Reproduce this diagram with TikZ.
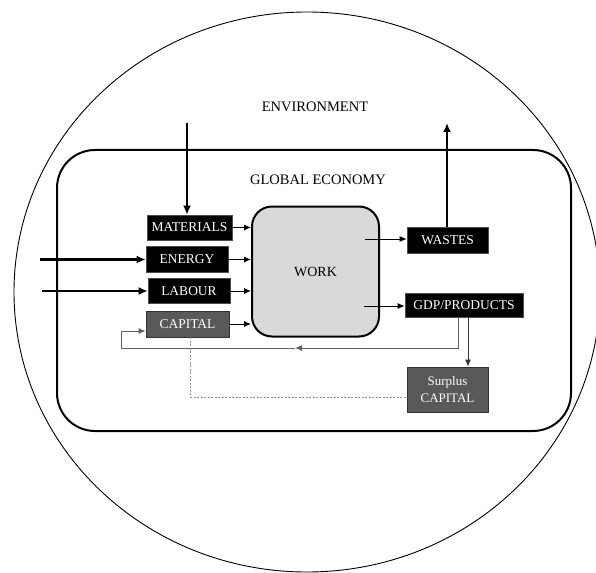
\documentclass[tikz,border=0pt]{standalone}
\usepackage{fontspec}
\setmainfont{Liberation Serif}
\usetikzlibrary{arrows.meta,calc}
\definecolor{boxgray}{HTML}{595959}
\definecolor{workgray}{HTML}{D9D9D9}
\definecolor{linegray}{HTML}{606060}
\tikzset{
  blackbox/.style={draw=black!70, line width=0.6pt, fill=black, text=white, inner sep=0pt, font=\fontsize{13.5}{15}\selectfont},
  graybox/.style={draw=black!80, line width=0.8pt, fill=boxgray, text=white, inner sep=0pt, font=\fontsize{13.5}{15}\selectfont},
  thickarrow/.style={line width=2.3pt, -{Latex[length=9pt,width=8pt]}},
  thinarrow/.style={line width=0.9pt, -{Latex[length=7pt,width=6pt]}},
  fbline/.style={draw=linegray, line width=1pt},
  title/.style={font=\fontsize{14.5}{16}\selectfont}
}
\begin{document}
\begin{tikzpicture}[x=1pt,y=-1pt]
\useasboundingbox (0,0) rectangle (596,572);
\fill[white] (0,0) rectangle (596,572);
% environment ellipse
\draw[line width=0.9pt] (307,292) ellipse [x radius=293, y radius=280];
\node[title] (env) at (315,107) {ENVIRONMENT};
% global economy
\draw[line width=2pt, rounded corners=38pt] (57,150) rectangle (571,431);
\node[title] (ge) at (318,180) {GLOBAL ECONOMY};
% boxes
\node[blackbox, minimum width=85pt, minimum height=25pt] (mat) at (189.5,227.5) {MATERIALS};
\node[blackbox, minimum width=82pt, minimum height=26pt] (ene) at (187,259.5) {ENERGY};
\node[blackbox, minimum width=82pt, minimum height=25pt] (lab) at (189,291) {LABOUR};
\node[graybox, minimum width=83pt, minimum height=26pt] (cap) at (187.5,324) {CAPITAL};
\node[draw, line width=2pt, fill=workgray, rounded corners=20pt, minimum width=127pt, minimum height=130pt, font=\fontsize{14}{16}\selectfont] (work) at (315.5,271.5) {WORK};
\node[blackbox, minimum width=81pt, minimum height=26pt] (was) at (447.5,240) {WASTES};
\node[blackbox, minimum width=118pt, minimum height=24pt] (gdp) at (464,305) {GDP/PRODUCTS};
\node[graybox, minimum width=81pt, minimum height=45pt, align=center, font=\fontsize{13}{17}\selectfont] (sur) at (447.5,389.5) {Surplus\\CAPITAL};
% external arrows
\coordinate (matin) at (187,123);
\coordinate (wasout) at (447,123);
\coordinate (enein) at (40,259.5);
\coordinate (labin) at (42,291);
\draw[thickarrow] (matin) -- (matin |- mat.north);
\draw[thickarrow] (was.north -| wasout) -- (wasout);
\draw[thickarrow] (enein) -- (ene.west);
\draw[thickarrow] (labin) -- (lab.west);
% inputs to work
\draw[thinarrow] (mat.east) -- (work.west |- mat.east);
\draw[thinarrow] (ene.east) -- (work.west |- ene.east);
\draw[thinarrow] (lab.east) -- (work.west |- lab.east);
\draw[thinarrow] (cap.east) -- (work.west |- cap.east);
% outputs
\coordinate (wo1) at (365,239);
\coordinate (wo2) at (364,306);
\draw[thinarrow] (wo1) -- (was.west |- wo1);
\draw[thinarrow] (wo2) -- (gdp.west |- wo2);
% feedback loop
\coordinate (g1) at (458,317);
\coordinate (mid) at (295,348);
\coordinate (lc) at (121,348);
\draw[fbline, -{Latex[length=7pt,width=6pt]}] (g1 |- gdp.south) |- (mid);
\draw[fbline, -{Latex[length=7pt,width=6pt]}] (mid) -- (lc) |- ([yshift=-7pt]cap.west);
% to surplus
\coordinate (g2) at (468,317);
\draw[line width=0.9pt, draw=black!80, -{Latex[length=7pt,width=6pt]}] (g2 |- gdp.south) -- (g2 |- sur.north);
% dashed link
\draw[draw=black!45, line width=0.9pt, dash pattern=on 2pt off 1.5pt] ([xshift=3pt]cap.south) |- ([yshift=-7.5pt]sur.west);
\end{tikzpicture}
\end{document}
